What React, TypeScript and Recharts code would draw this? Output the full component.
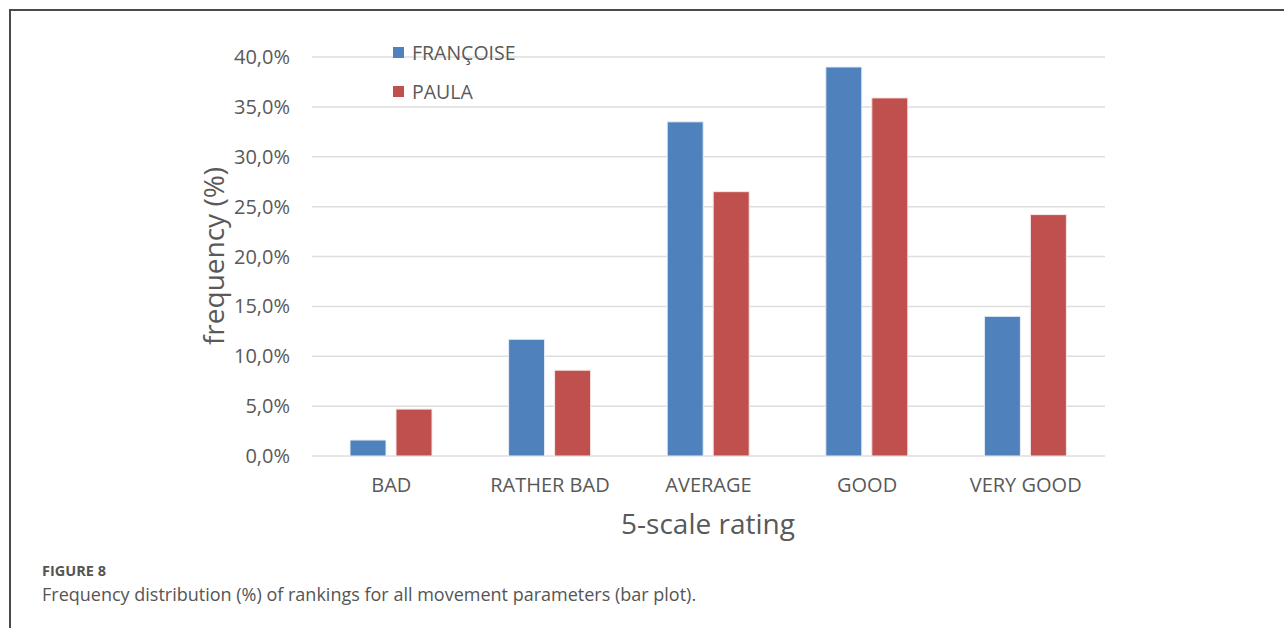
import { BarChart, Bar, XAxis, YAxis, CartesianGrid, Legend } from "recharts";

const categories = ["BAD", "RATHER BAD", "AVERAGE", "GOOD", "VERY GOOD"];
const francoise = [1.6, 11.7, 33.5, 39.0, 14.0];
const paula = [4.7, 8.6, 26.5, 35.9, 24.2];
const yTicks = [0, 5, 10, 15, 20, 25, 30, 35, 40];

const seriesNames = { francoise: "FRANÇOISE", paula: "PAULA" };
const colors = { francoise: "#4F81BD", paula: "#C0504D" };

const data = categories.map((name, i) => ({
  name,
  francoise: francoise[i],
  paula: paula[i],
}));

const FONT = "'Open Sans', sans-serif";
const TEXT = "#595959";

const fmt = (v: number) => v.toFixed(1).replace(".", ",") + "%";

const LegendBox = () => (
  <div style={{ fontFamily: FONT, fontSize: 19.5, color: TEXT }}>
    {(["francoise", "paula"] as const).map((k, i) => (
      <div
        key={k}
        style={{ display: "flex", alignItems: "center", height: 20, marginTop: i ? 19 : 0 }}
      >
        <span style={{ width: 11, height: 11, background: colors[k], marginRight: 8 }} />
        <span>{seriesNames[k]}</span>
      </div>
    ))}
  </div>
);

export default function App() {
  return (
    <div style={{ position: "absolute", left: 0, top: 0, width: 1284, height: 628, background: "#fff" }}>
      {/* figure frame */}
      <div
        style={{
          position: "absolute",
          left: 9,
          top: 9,
          width: 1275,
          height: 619,
          borderLeft: "2px solid #4a4a4a",
          borderTop: "2px solid #4a4a4a",
          boxSizing: "border-box",
        }}
      />
      <div style={{ position: "absolute", left: 0, top: 0 }}>
        <BarChart
          width={1284}
          height={628}
          data={data}
          margin={{ top: 57, right: 179, bottom: 72, left: 0 }}
          barSize={36}
          barGap={10}
        >
          <CartesianGrid vertical={false} stroke="#dedede" strokeWidth={1.5} />
          <XAxis
            dataKey="name"
            height={100}
            axisLine={false}
            tickLine={false}
            tickSize={0}
            tickMargin={22}
            tick={{ fill: TEXT, fontSize: 20, fontFamily: FONT }}
          />
          <YAxis
            width={312}
            domain={[0, 40]}
            ticks={yTicks}
            axisLine={false}
            tickLine={false}
            tickSize={0}
            tickMargin={22}
            tickFormatter={fmt}
            tick={{ fill: TEXT, fontSize: 20, fontFamily: FONT }}
          />
          <Legend
            verticalAlign="middle"
            align="center"
            layout="vertical"
            wrapperStyle={{ position: "absolute", left: 393, top: 42, width: 200 }}
            content={() => <LegendBox />}
          />
          <Bar dataKey="francoise" name={seriesNames.francoise} fill={colors.francoise} stroke="#e8eef7" strokeWidth={1} isAnimationActive={false} />
          <Bar dataKey="paula" name={seriesNames.paula} fill={colors.paula} stroke="#f5e6e6" strokeWidth={1} isAnimationActive={false} />
        </BarChart>
      </div>
      {/* axis titles */}
      <div
        style={{
          position: "absolute",
          left: 213,
          top: 256,
          transform: "translate(-50%, -50%) rotate(-90deg)",
          fontFamily: FONT,
          fontSize: 28,
          color: TEXT,
          whiteSpace: "nowrap",
        }}
      >
        frequency (%)
      </div>
      <div
        style={{
          position: "absolute",
          left: 708,
          top: 523,
          transform: "translate(-50%, -50%)",
          fontFamily: FONT,
          fontSize: 28,
          color: TEXT,
          whiteSpace: "nowrap",
        }}
      >
        5-scale rating
      </div>
      {/* caption */}
      <div style={{ position: "absolute", left: 42, top: 561, fontFamily: FONT, color: "#555", whiteSpace: "nowrap" }}>
        <div style={{ fontSize: 14.5, fontWeight: 700, lineHeight: "20px" }}>FIGURE 8</div>
        <div style={{ fontSize: 18, lineHeight: "27px" }}>
          Frequency distribution (%) of rankings for all movement parameters (bar plot).
        </div>
      </div>
    </div>
  );
}
